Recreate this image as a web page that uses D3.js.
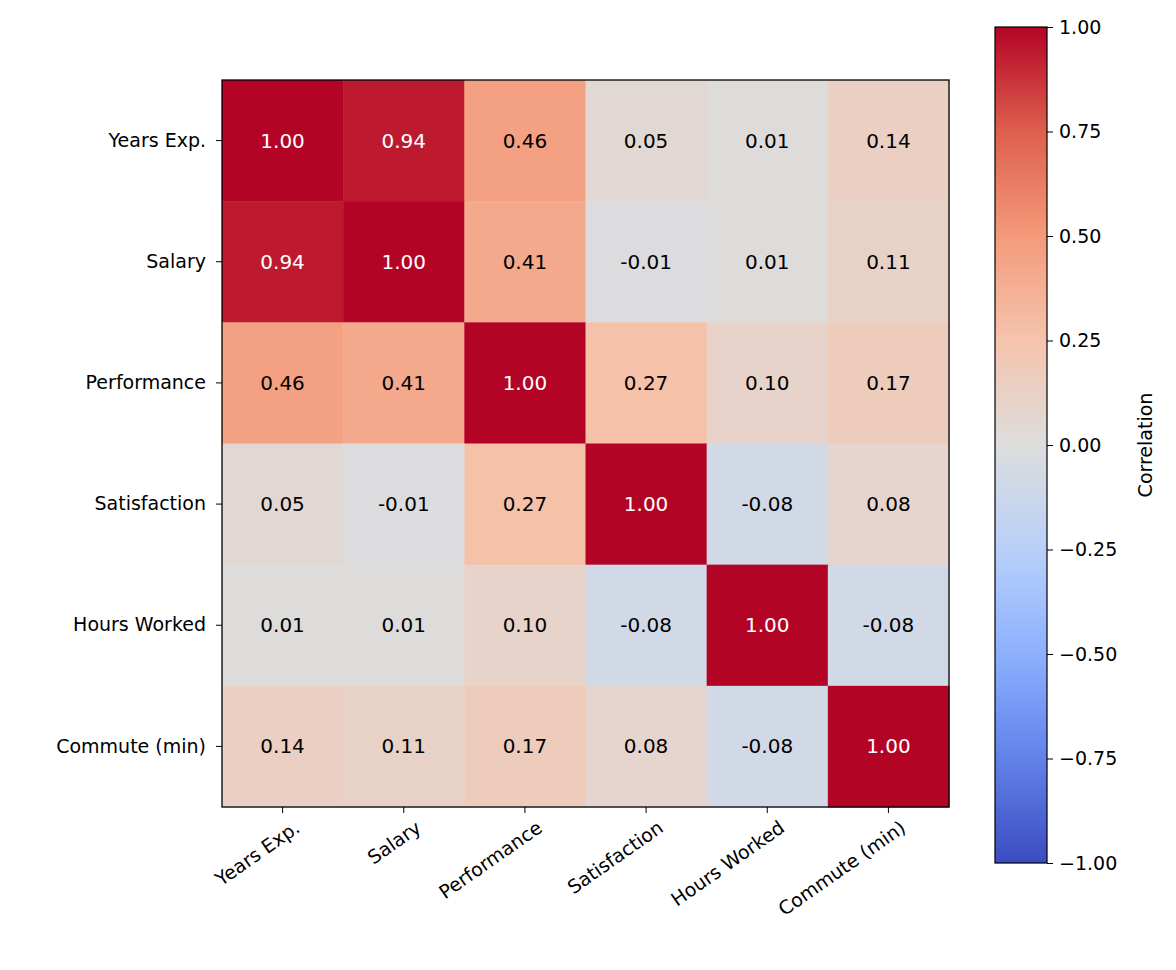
<!DOCTYPE html>
<html><head><meta charset="utf-8">
<script src="https://cdn.jsdelivr.net/npm/d3@7"></script>
<style>body{margin:0;background:#fff}text{font-family:"DejaVu Sans",sans-serif}</style>
</head><body><svg id="c" width="1176" height="970"></svg>
<script>
var labels = ['Years Exp.', 'Salary', 'Performance', 'Satisfaction', 'Hours Worked', 'Commute (min)'];
var matrix = [
  [1.00, 0.94, 0.46, 0.05, 0.01, 0.14],
  [0.94, 1.00, 0.41, -0.01, 0.01, 0.11],
  [0.46, 0.41, 1.00, 0.27, 0.10, 0.17],
  [0.05, -0.01, 0.27, 1.00, -0.08, 0.08],
  [0.01, 0.01, 0.10, -0.08, 1.00, -0.08],
  [0.14, 0.11, 0.17, 0.08, -0.08, 1.00]
];
var cbTicks = [1, 0.75, 0.5, 0.25, 0, -0.25, -0.5, -0.75, -1];
var coolwarmStops = ['#3b4cc0', '#6282ea', '#8db0fe', '#b8d0f9', '#dddddd', '#f5c4ad', '#f49a7b', '#de604d', '#b40426'];

var color = d3.scaleLinear().domain(d3.range(9).map(function(i) { return -1 + i * 0.25; }))
  .range(coolwarmStops).interpolate(d3.interpolateRgb);

var svg = d3.select('#c');
var x0 = 222, y0 = 80, size = 727;
var x = d3.scaleBand().domain(labels).range([x0, x0 + size]);
var y = d3.scaleBand().domain(labels).range([y0, y0 + size]);

var cells = [];
matrix.forEach(function(row, i) { row.forEach(function(v, j) { cells.push({r: labels[i], c: labels[j], v: v}); }); });

svg.selectAll('rect.cell').data(cells).enter().append('rect')
  .attr('x', function(d) { return x(d.c); }).attr('y', function(d) { return y(d.r); })
  .attr('width', x.bandwidth() + 0.5).attr('height', y.bandwidth() + 0.5)
  .attr('fill', function(d) { return color(d.v); });

svg.selectAll('text.val').data(cells).enter().append('text')
  .attr('x', function(d) { return x(d.c) + x.bandwidth() / 2; })
  .attr('y', function(d) { return y(d.r) + y.bandwidth() / 2; })
  .attr('text-anchor', 'middle').attr('dy', '0.35em').attr('font-size', 20)
  .attr('fill', function(d) { return Math.abs(d.v) > 0.5 ? '#fff' : '#000'; })
  .text(function(d) { return d.v.toFixed(2); });

svg.append('rect').attr('x', x0).attr('y', y0).attr('width', size).attr('height', size)
  .attr('fill', 'none').attr('stroke', '#000').attr('stroke-width', 1.3);

var xa = svg.append('g').attr('transform', 'translate(0,' + (y0 + size) + ')')
  .call(d3.axisBottom(x).tickSizeOuter(0).tickSize(6));
xa.select('.domain').remove();
xa.selectAll('text').attr('font-size', 19).attr('fill', '#000')
  .attr('text-anchor', 'end').attr('dx', '0.3em').attr('dy', '0.9em')
  .attr('transform', 'rotate(-35) translate(-4,4)');
xa.selectAll('line').attr('stroke', '#000');

var ya = svg.append('g').attr('transform', 'translate(' + x0 + ',0)')
  .call(d3.axisLeft(y).tickSizeOuter(0).tickSize(6).tickPadding(10));
ya.select('.domain').remove();
ya.selectAll('text').attr('font-size', 19).attr('fill', '#000');
ya.selectAll('line').attr('stroke', '#000');

// colorbar
var cbX = 995, cbW = 52, cbTop = 27, cbBot = 863;
var cy = d3.scaleLinear().domain([-1, 1]).range([cbBot, cbTop]);
var grad = svg.append('defs').append('linearGradient').attr('id', 'g')
  .attr('x1', 0).attr('y1', 1).attr('x2', 0).attr('y2', 0);
coolwarmStops.forEach(function(c, i) {
  grad.append('stop').attr('offset', (i / 8 * 100) + '%').attr('stop-color', c);
});
svg.append('rect').attr('x', cbX).attr('y', cbTop).attr('width', cbW).attr('height', cbBot - cbTop)
  .attr('fill', 'url(#g)').attr('stroke', '#000').attr('stroke-width', 1.2);
var ca = svg.append('g').attr('transform', 'translate(' + (cbX + cbW) + ',0)')
  .call(d3.axisRight(cy).tickValues(cbTicks).tickSize(6).tickPadding(6)
    .tickFormat(function(d) { return d3.format('.2f')(d).replace('-', '\u2212'); }));
ca.select('.domain').remove();
ca.selectAll('text').attr('font-size', 19).attr('fill', '#000');
ca.selectAll('line').attr('stroke', '#000');
svg.append('text').attr('transform', 'translate(1152,' + ((cbTop + cbBot) / 2) + ') rotate(-90)')
  .attr('text-anchor', 'middle').attr('font-size', 19).text('Correlation');
</script></body></html>
